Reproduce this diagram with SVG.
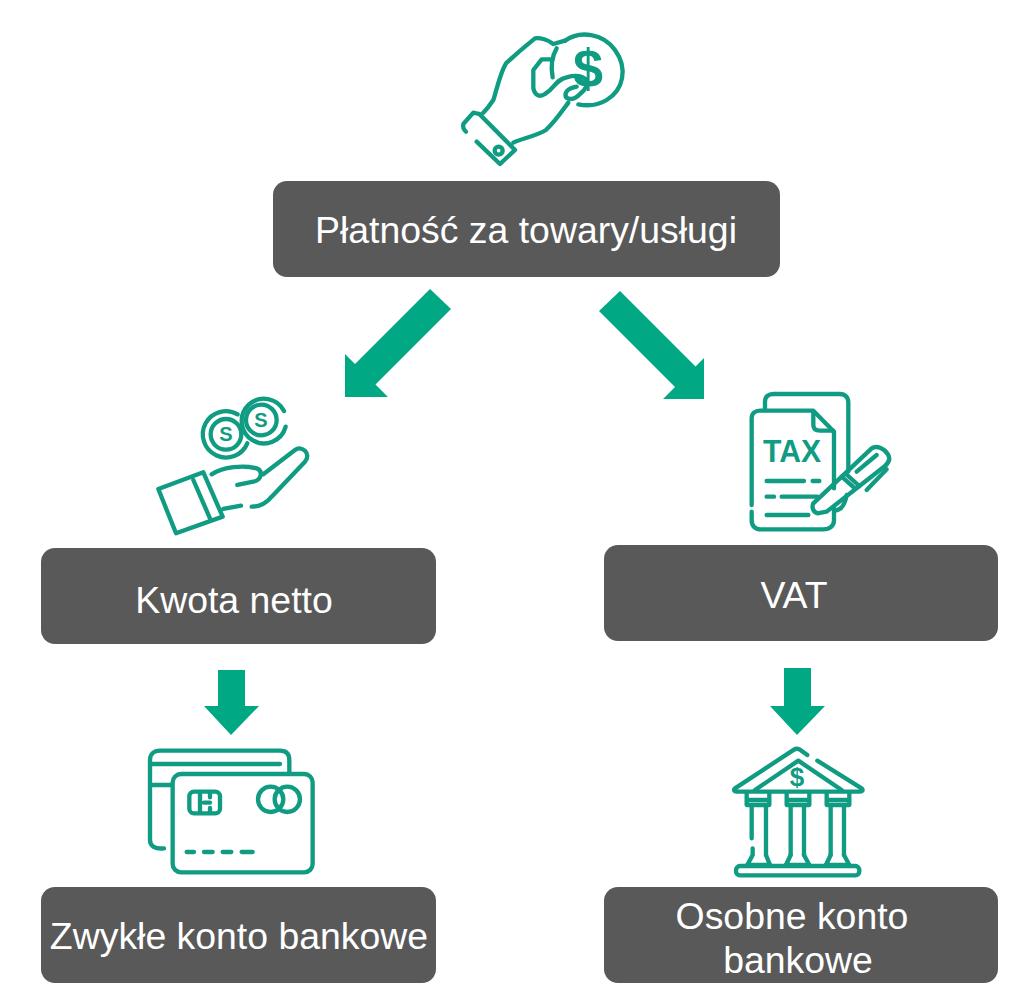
<svg xmlns="http://www.w3.org/2000/svg" width="1024" height="988" viewBox="0 0 1024 988">
<style>
.box{fill:#595959}
.lbl{font-family:"Liberation Sans",Arial,sans-serif;font-size:37.4px;fill:#fff;text-anchor:middle}
.arr{fill:#00a884}
.ic{fill:none;stroke:#109c82;stroke-width:13;stroke-linecap:round;stroke-linejoin:round}
.ict{font-family:"Liberation Sans",Arial,sans-serif;fill:#109c82;text-anchor:middle;font-weight:bold}
</style>
<rect width="1024" height="988" fill="#fff"/>
<g id="connectors">
<polygon class="arr" points="430,289 451,309 375.500,384.500 388,397 345,397 345,354 355,364"/>
<polygon class="arr" points="620,291 599,311 675,387 663,399 704,399 704,358 695.500,366.500"/>
<polygon class="arr" points="218,670 245,670 245,706 259,706 231,735 204,706 218,706"/>
<polygon class="arr" points="784,668 811,668 811,706 825,706 797,735 770,706 784,706"/>
</g>
<g id="node-payment-icon">
<g class="ic" transform="translate(440,20) scale(.3333)">
<path d="M375 62C420 30 490 40 525 90C565 145 550 210 500 240C470 258 440 258 415 253"/>
<path d="M375 62L340 72C325 60 300 52 285 55C260 75 225 105 198 130C180 160 170 210 160 240C150 255 140 268 130 278"/>
<path d="M350 85C335 110 332 140 338 172"/>
<path d="M338 118L305 118L280 150L280 205C285 228 300 232 315 222C345 205 345 180 380 172C405 165 425 165 440 180C445 195 435 210 420 222C405 238 390 240 378 232C372 215 385 205 410 200"/>
<path d="M385 248C365 275 345 305 318 330C285 350 245 355 220 368"/>
<path d="M118 282L100 278L70 312C68 322 72 330 78 335"/>
<path d="M118 282L225 390L180 432L110 365"/>
<circle cx="176" cy="392" r="12"/>
</g>
<text class="ict" font-size="54" x="588" y="87">$</text>
</g>
<g id="node-payment">
<rect class="box" x="273" y="181" width="507" height="96" rx="14"/>
<text class="lbl" x="526" y="243">Płatność za towary/usługi</text>
</g>
<g id="node-net-icon">
<g class="ic" transform="translate(140,385) scale(.3333)">
<path d="M293 88A69.500 69.500 0 1 0 322 175"/>
<circle cx="258" cy="148" r="46"/>
<path d="M437 125A67 67 0 1 1 432 78"/>
<circle cx="364" cy="105" r="46"/>
<path d="M55 312L190 262L248 395L108 445Z"/>
<path d="M160 285L212 405"/>
<path d="M215 268C250 245 310 240 350 250C370 258 365 285 340 290L292 300"/>
<path d="M370 268L465 195C485 180 515 205 495 230L395 335C375 360 355 365 335 365"/>
<path d="M250 372L303 362"/>
</g>
<text class="ict" x="226" y="441" font-size="20">S</text>
<text class="ict" x="261" y="427" font-size="20">S</text>
</g>
<g id="node-net">
<rect class="box" x="41" y="548" width="395" height="96" rx="14"/>
<text class="lbl" x="234" y="613">Kwota netto</text>
</g>
<g id="node-vat-icon">
<g class="ic" transform="translate(730,380) scale(.3333)">
<path d="M105 90V65C105 50 115 42 130 42H330C345 42 355 52 355 68V275"/>
<path d="M350 345C345 375 335 390 315 392"/>
<path d="M65 375V115C65 100 75 92 90 92H250L312 155V325"/>
<path d="M65 395V420C65 438 75 448 92 448H280C300 448 312 438 312 420V385"/>
<path d="M250 95V135C250 148 258 152 270 152H310"/>
<path d="M110 303H222M248 303H268M110 350H132M155 350H262M110 405H235"/>
<path d="M250 370L425 205C440 195 465 205 475 225C482 240 475 250 465 258L290 395L262 400C248 395 245 380 250 370Z"/>
<path d="M335 290L375 325M348 282L388 318M380 275L440 225M410 330L470 268"/>
</g>
<text class="ict" x="792" y="462" font-size="31" textLength="58" lengthAdjust="spacingAndGlyphs">TAX</text>
</g>
<g id="node-vat">
<rect class="box" x="604" y="545" width="394" height="96" rx="14"/>
<text class="lbl" x="794" y="608" font-size="36">VAT</text>
</g>
<g id="node-regular-icon">
<g class="ic" transform="translate(130,740) scale(.3333)">
<path d="M122 135H62M62 72H450M60 72V60C60 42 72 32 90 32H450C468 32 478 42 478 60V98"/>
<path d="M60 72V300C60 318 75 328 102 325"/>
<rect x="128" y="102" width="420" height="295" rx="25"/>
<rect x="178" y="155" width="92" height="65" rx="14"/>
<path d="M210 158V218M222 188H240M240 158V172M240 204V218"/>
<circle cx="422" cy="178" r="38"/>
<circle cx="472" cy="178" r="38"/>
<path d="M170 336H192M222 336H248M278 336H304M335 336H368"/>
</g>
</g>
<g id="node-regular">
<rect class="box" x="41" y="887" width="395" height="96" rx="14"/>
<text class="lbl" x="239" y="949">Zwykłe konto bankowe</text>
</g>
<g id="node-bank-icon">
<g class="ic" transform="translate(720,740) scale(.3333)">
<path d="M262 45L238 28C232 25 228 25 222 29L45 145C40 150 42 155 50 155H420C428 155 430 150 425 145L292 62"/>
<path d="M105 150L235 62L365 150"/>
<path d="M80 158V195H148V158M200 158V195H268V158M320 158V195H388V158M85 180H145M205 180H265M325 180H385"/>
<path d="M95 200V295M138 200V345M212 200V345M252 200V345M332 200V345M372 200V345"/>
<path d="M98 325V345L82 375M138 345L150 375M212 345L198 375M252 345L268 375M332 345L318 375M372 345L388 375"/>
<path d="M82 375H150M198 375H268M318 375H388"/>
<rect x="48" y="378" width="370" height="28" rx="12"/>
</g>
<text class="ict" x="797" y="786" font-size="26">$</text>
</g>
<g id="node-separate">
<rect class="box" x="604" y="887" width="394" height="96" rx="14"/>
<text class="lbl" x="792" y="929">Osobne konto</text>
<text class="lbl" x="798" y="973">bankowe</text>
</g>
</svg>
